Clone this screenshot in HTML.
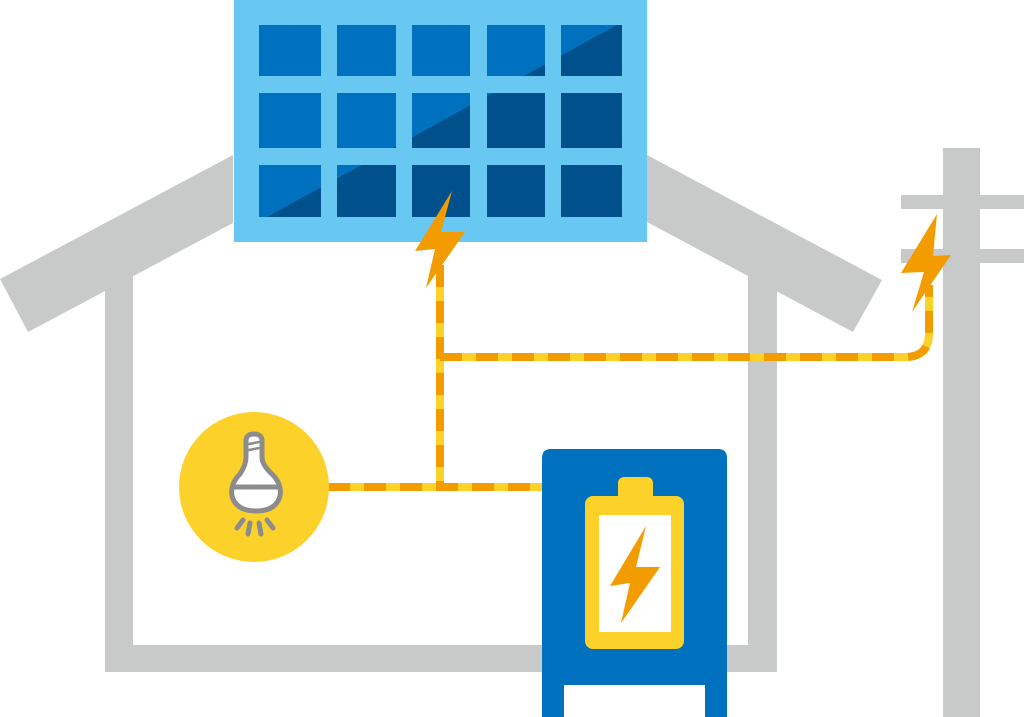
<!DOCTYPE html>
<html><head><meta charset="utf-8"><style>html,body{margin:0;padding:0;background:#fff}svg{display:block}</style></head>
<body>
<svg width="1024" height="717" viewBox="0 0 1024 717" xmlns="http://www.w3.org/2000/svg">
<defs>
<clipPath id="cells">
<rect x="259" y="25" width="62" height="51"/><rect x="337" y="25" width="59" height="51"/><rect x="412" y="25" width="58" height="51"/><rect x="487" y="25" width="58" height="51"/><rect x="561" y="25" width="61" height="51"/>
<rect x="259" y="93" width="62" height="55"/><rect x="337" y="93" width="59" height="55"/><rect x="412" y="93" width="58" height="55"/><rect x="487" y="93" width="58" height="55"/><rect x="561" y="93" width="61" height="55"/>
<rect x="259" y="165" width="62" height="52"/><rect x="337" y="165" width="59" height="52"/><rect x="412" y="165" width="58" height="52"/><rect x="487" y="165" width="58" height="52"/><rect x="561" y="165" width="61" height="52"/>
</clipPath>
</defs>
<g fill="#c8c9c9">
<polygon points="0,279 233,155 233,223 28,332"/>
<polygon points="647,155 882,280 853,332 647,222"/>
<rect x="105" y="275" width="28" height="397"/>
<rect x="748" y="275" width="29" height="397"/>
<rect x="105" y="645" width="672" height="27"/>
<rect x="943" y="148" width="37" height="569"/>
<rect x="901" y="195" width="123" height="14"/>
<rect x="901" y="249" width="123" height="14"/>
</g>
<rect x="234" y="0" width="413" height="242" fill="#68c8f2"/>
<g clip-path="url(#cells)">
<rect x="250" y="0" width="400" height="242" fill="#0071bf"/>
<polygon points="200,253.8 680,-9.7 680,242 200,242" fill="#00518b"/>
</g>
<g fill="none" stroke-width="8">
<path d="M440 265 V487 M328 487 H545 M440 357 H905 Q929 357 929 333 V285" stroke="#fcd22a"/>
<path d="M440 265 V487 M328 487 H545 M440 357 H905 Q929 357 929 333 V285" stroke="#f39c00" stroke-dasharray="22 14"/>
</g>
<polygon points="452,191 415,251 435,249 426,288 465,232 441,232" fill="#f39c00"/>
<polygon points="937,214 901,273 924,272 912,312 951,255 933,256" fill="#f39c00"/>
<circle cx="254" cy="487" r="75" fill="#fcd22a"/>
<g stroke="#8c8c8c" stroke-width="5" fill="#fff" stroke-linecap="round" stroke-linejoin="round">
<path d="M246 457 V441 Q246 434 254 434 Q262 434 262 441 V457 Q262 465 272 474 Q282 484 280 496 Q276 511 256 511 Q236 511 232 496 Q230 484 240 474 Q246 465 246 457 Z"/>
<path d="M233 487 H279"/>
<path d="M249 444 L259 442 M249 450 L259 448" fill="none" stroke-width="2.5"/>
<path d="M237 528 L243 520 M248 534 L250 523 M259 523 L261 534 M267 520 L273 528" fill="none"/>
</g>
<path d="M542 458 Q542 449 551 449 H718 Q727 449 727 458 V717 H705 V685 H564 V717 H542 Z" fill="#0071bf"/>
<rect x="585" y="496" width="99" height="153" rx="8" fill="#fcd22a"/>
<rect x="618" y="477" width="35" height="26" rx="6" fill="#fcd22a"/>
<rect x="599" y="515" width="72" height="117" fill="#fff"/>
<polygon points="646,526 610,586 630,583 621,623 660,567 636,567" fill="#f39c00"/>
</svg>
</body></html>
